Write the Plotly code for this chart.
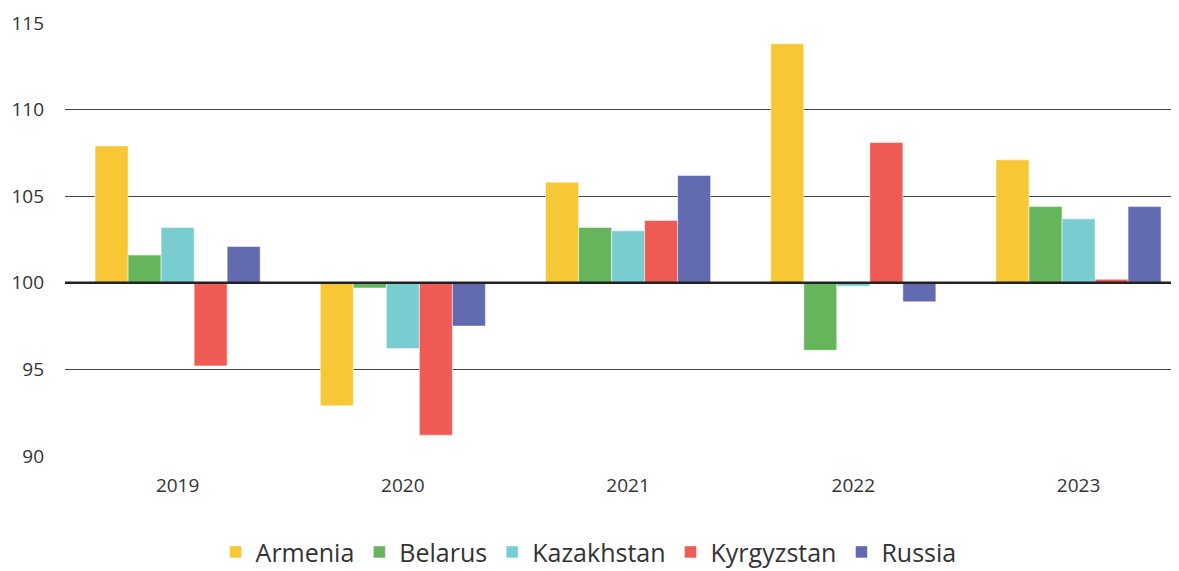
import plotly.graph_objects as go

years = ["2019", "2020", "2021", "2022", "2023"]
countries = ["Armenia", "Belarus", "Kazakhstan", "Kyrgyzstan", "Russia"]
armenia = [107.9, 92.9, 105.8, 113.8, 107.1]
belarus = [101.6, 99.7, 103.2, 96.1, 104.4]
kazakhstan = [103.2, 96.2, 103.0, 99.8, 103.7]
kyrgyzstan = [95.2, 91.2, 103.6, 108.1, 100.2]
russia = [102.1, 97.5, 106.2, 98.9, 104.4]
colors = ["#F7C736", "#66B55C", "#79CDD1", "#F05A55", "#626AB0"]
BASELINE = 100

series = [armenia, belarus, kazakhstan, kyrgyzstan, russia]

fig = go.Figure()
for name, vals, col in zip(countries, series, colors):
    fig.add_trace(go.Bar(
        x=years,
        y=[v - BASELINE for v in vals],
        base=BASELINE,
        name=name,
        marker=dict(color=col, line=dict(color="rgba(255,255,255,0.5)", width=1)),
        customdata=vals,
        hovertemplate="%{x}: %{customdata}<extra>" + name + "</extra>",
    ))

fig.add_shape(type="line", xref="paper", x0=0, x1=1, yref="y",
              y0=BASELINE, y1=BASELINE, line=dict(color="#222", width=2.5))

# page body adds an 8px offset, so the figure is sized to fit the window
# the original chart is cropped on the right, hence the short x range
fig.update_layout(
    width=1171, height=563,
    margin=dict(l=57, r=0, t=15, b=115, autoexpand=False),
    paper_bgcolor="white", plot_bgcolor="white",
    barmode="group", bargap=0.267, bargroupgap=0,
    font=dict(family="Open Sans, Lato, sans-serif", color="#333", size=19),
    legend=dict(orientation="h", x=0.47, xanchor="center", y=-0.222, yanchor="middle",
                font=dict(size=25, color="#333"), itemwidth=30,
                traceorder="normal", itemclick=False),
    xaxis=dict(range=[-0.5, 4.446], showgrid=False, showline=False, ticks="",
               ticklabelstandoff=16, tickfont=dict(size=19)),
    yaxis=dict(range=[90, 115], tickvals=[90, 95, 100, 105, 110, 115],
               showgrid=True, gridcolor="#444", gridwidth=1, zeroline=False,
               showline=False, ticks="", ticklabelstandoff=20,
               tickfont=dict(size=19)),
)

fig.write_html("out.html")
